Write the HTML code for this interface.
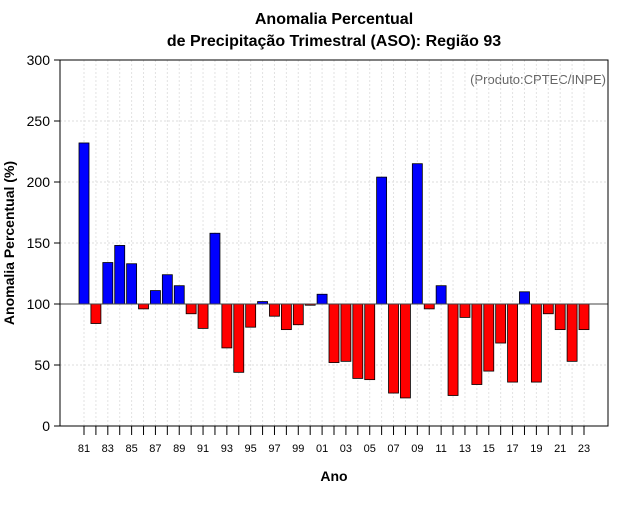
<!DOCTYPE html>
<html><head><meta charset="utf-8"><style>
body{margin:0;background:#fff;font-family:"Liberation Sans",sans-serif}
svg text{font-family:"Liberation Sans",sans-serif}
</style></head><body>
<svg id="chart" width="640" height="500">
<text x="334" y="24" text-anchor="middle" font-size="16" font-weight="bold">Anomalia Percentual</text>
<text x="334" y="46" text-anchor="middle" font-size="16" font-weight="bold">de Precipitação Trimestral (ASO): Região 93</text>
<text x="606" y="84" text-anchor="end" font-size="13" fill="#666">(Produto:CPTEC/INPE)</text>
<text x="334" y="481" text-anchor="middle" font-size="14" font-weight="bold">Ano</text>
<text transform="translate(14,243) rotate(-90)" text-anchor="middle" font-size="14" font-weight="bold">Anomalia Percentual (%)</text>
<g id="grid"></g><g id="bars"></g><g id="axes"></g>
</svg>
<script>
const years=[];for(let y=1981;y<=2023;y++)years.push(y);
const values=[232,84,134,148,133,96,111,124,115,92,80,158,64,44,81,102,90,79,83,99,108,52,53,39,38,204,27,23,215,96,115,25,89,34,45,68,36,110,36,92,79,53,79];
const yTicks=[0,50,100,150,200,250,300];
const X0=60,X1=608,Y0=426,Y1=60;
const xs=i=>84+i*(500/42);
const ys=v=>Y0-(v/300)*(Y0-Y1);
const NS="http://www.w3.org/2000/svg";
function mk(p,t,a){const e=document.createElementNS(NS,t);for(const k in a)e.setAttribute(k,a[k]);p.appendChild(e);return e;}
const grid=document.getElementById('grid'),bars=document.getElementById('bars'),axes=document.getElementById('axes');
yTicks.forEach(t=>{
 const g=mk(grid,'line',{x1:X0,x2:X1,y1:ys(t),y2:ys(t),stroke:'#ddd','stroke-dasharray':'2,2'});
 
 
 const tk=mk(axes,'line',{x1:X0-6,x2:X0,y1:ys(t),y2:ys(t),stroke:'#000'});
 
 
 const lb=mk(axes,'text',{x:X0-10,y:ys(t)+5,'text-anchor':'end','font-size':'14'});
 lb.textContent=t;
 
 
});
years.forEach((y,i)=>{
 const g=mk(grid,'line',{x1:xs(i),x2:xs(i),y1:Y1,y2:Y0,stroke:'#e2e2e2','stroke-dasharray':'2,2'});
 
 
 const tk=mk(axes,'line',{x1:xs(i),x2:xs(i),y1:Y0,y2:Y0+9,stroke:'#000'});
 
 
 if(i%2===0){
  const lb=mk(axes,'text',{x:xs(i),y:452,'text-anchor':'middle','font-size':'11'});
  lb.textContent=String(y%100).padStart(2,'0');
  
  
 }
});
values.forEach((v,i)=>{
 const top=Math.min(ys(v),ys(100)),h=Math.abs(ys(v)-ys(100));
 const r=mk(bars,'rect',{x:xs(i)-5,y:top,width:10,height:Math.max(h,0.5),fill:v>=100?'#0000ff':'#ff0000',stroke:'#000','stroke-width':0.8});
 
 
});
const ref=mk(axes,'line',{x1:X0,x2:X1,y1:ys(100),y2:ys(100),stroke:'#444','stroke-width':1});


const fr=mk(axes,'rect',{x:X0,y:Y1,width:X1-X0,height:Y0-Y1,fill:'none',stroke:'#000'});


</script>
</body></html>
